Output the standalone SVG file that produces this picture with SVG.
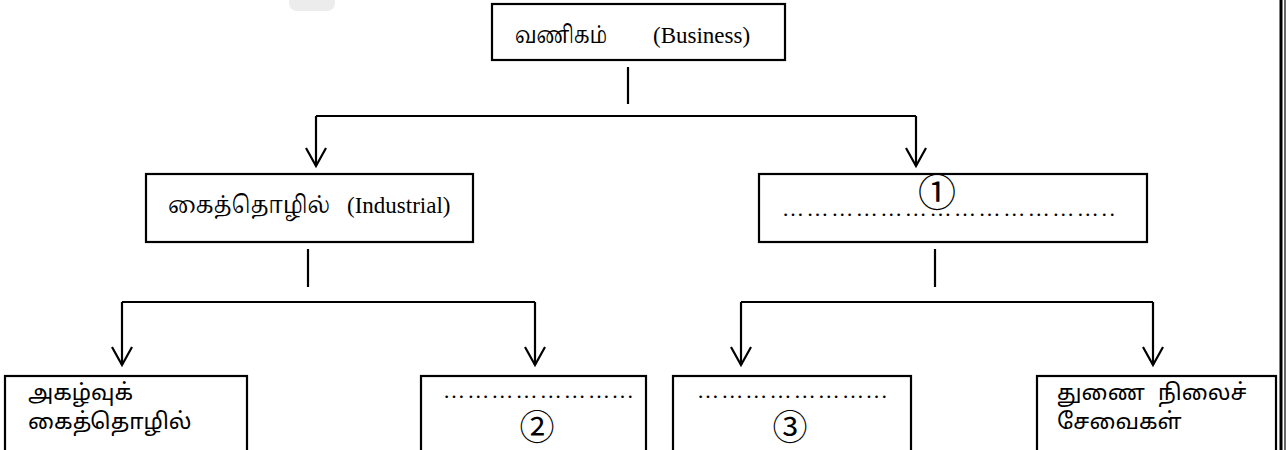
<svg xmlns="http://www.w3.org/2000/svg" width="1286" height="450" viewBox="0 0 1286 450">
<style>
.box{fill:#fff;stroke:#000;stroke-width:2.2}
.ln{fill:none;stroke:#000;stroke-width:2.2}
.ta{font-family:'Noto Serif Tamil','Latha','Lohit Tamil','Noto Sans Tamil',sans-serif;font-size:24px;fill:#000}
.tb{font-family:'Latha','Noto Sans Tamil','Lohit Tamil','Noto Serif Tamil',sans-serif;font-size:22.5px;fill:#000}
.en{font-family:'Liberation Serif','Times New Roman',serif;font-size:23px;fill:#000}
.dots{font-family:'Liberation Serif','Times New Roman',serif;font-size:22px;fill:#000}
.num{font-family:'Liberation Serif','Noto Sans CJK JP',serif;fill:#000}
</style>
<defs>
<marker id="arr" viewBox="-20 -12 22 24" refX="0" refY="0" markerWidth="22" markerHeight="24" markerUnits="userSpaceOnUse" orient="auto" overflow="visible">
<path d="M-18,-10 L0,0 L-18,10" fill="none" stroke="#000" stroke-width="2.2"/>
</marker>
</defs>
<rect width="1286" height="450" fill="#fff"/>
<rect x="289" y="-10" width="46" height="21" rx="8" fill="#ececec"/>
<line x1="1281" y1="0" x2="1281" y2="450" stroke="#000" stroke-width="3"/>
<line x1="1285" y1="0" x2="1285" y2="450" stroke="#000" stroke-width="1.2"/>

<g id="connectors">
<line class="ln" x1="628" y1="67" x2="628" y2="104"/>
<path class="ln" d="M316,116 H916"/>
<path class="ln" d="M316,116 V166" marker-end="url(#arr)"/>
<path class="ln" d="M916,116 V166" marker-end="url(#arr)"/>
<line class="ln" x1="308" y1="249" x2="308" y2="287"/>
<path class="ln" d="M122,302 H535"/>
<path class="ln" d="M122,302 V365" marker-end="url(#arr)"/>
<path class="ln" d="M535,302 V365" marker-end="url(#arr)"/>
<line class="ln" x1="935" y1="249" x2="935" y2="287"/>
<path class="ln" d="M741,302 H1153"/>
<path class="ln" d="M741,302 V365" marker-end="url(#arr)"/>
<path class="ln" d="M1153,302 V365" marker-end="url(#arr)"/>
</g>

<g id="business">
<rect class="box" x="492" y="4" width="293" height="56"/>
<text class="ta" x="515" y="43" textLength="92" lengthAdjust="spacingAndGlyphs">வணிகம்</text>
<text class="en" x="653" y="43">(Business)</text>
</g>

<g id="industrial">
<rect class="box" x="146" y="174" width="327" height="68"/>
<text class="ta" x="168" y="213" textLength="162" lengthAdjust="spacingAndGlyphs">கைத்தொழில்</text>
<text class="en" x="347" y="213">(Industrial)</text>
</g>

<g id="blank1">
<rect class="box" x="759" y="174" width="388" height="68"/>
<text class="num" x="937" y="206" font-size="38" text-anchor="middle">①</text>
<text class="dots" x="782" y="216" textLength="333" lengthAdjust="spacing">…………………………………..</text>
</g>

<g id="extractive">
<rect class="box" x="5" y="376" width="242" height="80"/>
<text class="tb" x="28" y="400">அகழ்வுக்</text>
<text class="tb" x="28" y="429">கைத்தொழில்</text>
</g>

<g id="blank2">
<rect class="box" x="421" y="376" width="225" height="80"/>
<text class="dots" x="443" y="398" textLength="190" lengthAdjust="spacing">…………………...</text>
<text class="num" x="537" y="440" font-size="35" text-anchor="middle">②</text>
</g>

<g id="blank3">
<rect class="box" x="673" y="376" width="238" height="80"/>
<text class="dots" x="697" y="398" textLength="190" lengthAdjust="spacing">…………………...</text>
<text class="num" x="790" y="440" font-size="35" text-anchor="middle">③</text>
</g>

<g id="aux">
<rect class="box" x="1037" y="376" width="239" height="80"/>
<text class="tb" x="1057" y="400">துணை</text>
<text class="tb" x="1158" y="400">நிலைச்</text>
<text class="tb" x="1057" y="429">சேவைகள்</text>
</g>
</svg>
